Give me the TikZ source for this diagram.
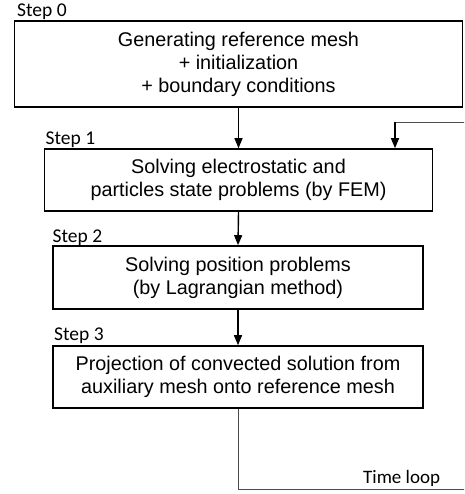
\documentclass[tikz,border=0pt]{standalone}
\usepackage{fontspec}
\setmainfont{Liberation Sans}
\newfontfamily\stepfont{Carlito}
\usetikzlibrary{arrows.meta}

\tikzset{stepbox/.style = {draw, line width=1.6pt, inner sep=0pt, align=center,
                           font=\fontsize{19.8}{23}\selectfont},
         steplabel/.style = {anchor=base west, inner sep=0pt,
                             font=\stepfont\fontsize{19.5}{22}\selectfont},
         flow/.style = {line width=1.4pt, -{Triangle[length=10pt,width=8pt]}},
         timeloop/.style = {line width=0.9pt, draw=black!70}
        }

\begin{document}
\begin{tikzpicture}[x=1pt, y=-1pt]
\useasboundingbox (0,0) rectangle (464,494);
\node[stepbox, minimum width=448pt, minimum height=86pt] at (238.5,64) (s0)
  {Generating reference mesh\\+ initialization\\+ boundary conditions};
\node[stepbox, minimum width=388pt, minimum height=62pt] at (238.5,180) (s1)
  {Solving electrostatic and\\particles state problems (by FEM)};
\node[stepbox, minimum width=370pt, minimum height=63pt] at (238,277.5) (s2)
  {Solving position problems\\(by Lagrangian method)};
\node[stepbox, minimum width=370pt, minimum height=62pt] at (238,377) (s3)
  {Projection of convected solution from\\auxiliary mesh onto reference mesh};
\node[steplabel] at (17,17) (l0) {Step 0};
\node[steplabel] at (45.5,145) (l1) {Step 1};
\node[steplabel] at (52.5,242) (l2) {Step 2};
\node[steplabel] at (54,340) (l3) {Step 3};
\draw[flow] (s0.south) -- (s1.north);
\draw[flow] (s1.south) -- (s2.north);
\draw[flow] (s2.south) -- (s3.north);
% time loop, leaves the picture on the right
\begin{scope}
\clip (0,0) rectangle (464,494);
\coordinate (lb) at (238,489);
\coordinate (lt) at (395,122);
\draw[timeloop] (s3.south) -- (lb) -- (480,489) -- (480,122) -- (lt);
\draw[flow] (lt) -- (lt |- s1.north);
\node[anchor=base west, inner sep=0pt, font=\stepfont\fontsize{19}{22}\selectfont]
  at (363,483) (tl) {Time loop};
\end{scope}
\end{tikzpicture}
\end{document}
